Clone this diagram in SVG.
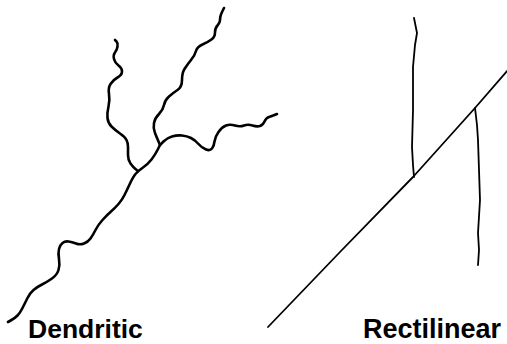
<svg xmlns="http://www.w3.org/2000/svg" width="507" height="344" viewBox="0 0 507 344">
  <style>
    .river { fill: none; stroke: #000; stroke-linecap: round; stroke-linejoin: round; }
    .dend { stroke-width: 2.6; }
    .rect { stroke-width: 1.8; }
    .label { font-family: "Liberation Sans", Arial, sans-serif; font-weight: bold; fill: #000; }
  </style>
  <rect width="507" height="344" fill="#fff"/>

  <!-- Dendritic drainage pattern -->
  <g id="dendritic">
    <g id="dendritic-trunk">
      <path class="river dend" d="M160,145 L157.5,150 Q155,155 151.5,159.5 Q148,164 143,167.5 Q138,171 135.5,174 Q133,177 130,183.5 Q127,190 124.5,195 Q122,200 118.5,204 Q115,208 111,211.5 Q107,215 102.5,220 Q98,225 95.5,230 Q93,235 90.5,238.5 Q88,242 84,243.5 Q80,245 76,243.5 Q72,242 68.5,241.5 Q65,241 62.5,243 Q60,245 59,249 Q58,253 59,259 Q60,265 58.5,270 Q57,275 52,278.5 Q47,282 42,284.5 Q37,287 33.5,290 Q30,293 27.5,298 Q25,303 22.5,308 Q20,313 17.5,315.5 Q15,318 11.5,320 L8,322"/>
    </g>
    <g id="dendritic-left">
      <path class="river dend" d="M138,171 L135.5,169 Q133,167 130.5,163.5 Q128,160 128,155 Q128,150 128,146.5 Q128,143 126.5,140 Q125,137 120,133.5 Q115,130 111.5,126.5 Q108,123 107.5,118 Q107,113 108.5,106.5 Q110,100 109,94 Q108,88 110.5,84 Q113,80 117.5,77.5 Q122,75 122,71.5 Q122,68 118.5,65.5 Q115,63 114,59 Q113,55 115,52.5 Q117,50 117.5,46.5 Q118,43 116.5,41.5 L115,40"/>
    </g>
    <g id="dendritic-middle">
      <path class="river dend" d="M160,145 L158.5,141.5 Q157,138 155,133 Q153,128 154,123 Q155,118 159,114 Q163,110 164,105 Q165,100 169,96.5 Q173,93 177.5,90 Q182,87 182,80 Q182,73 184.5,69 Q187,65 191,60 Q195,55 196,51 Q197,47 202.5,44.5 Q208,42 211.5,39.5 Q215,37 215,32.5 Q215,28 217.5,25.5 Q220,23 220,20 Q220,17 221,14.5 Q222,12 223,10 L224,8"/>
    </g>
    <g id="dendritic-right">
      <path class="river dend" d="M160,145 L163.5,141.5 Q167,138 172,136.5 Q177,135 182,135.5 Q187,136 191,138 Q195,140 198.5,144 Q202,148 206,149.5 Q210,151 212,148.5 Q214,146 214.5,141.5 Q215,137 218.5,132 Q222,127 226,125.5 Q230,124 235,125.5 Q240,127 244,125.5 Q248,124 252.5,125.5 Q257,127 260,126 Q263,125 264.5,121.5 Q266,118 269,117 Q272,116 274.5,115 L277,114"/>
    </g>
    <text class="label" x="28" y="338" font-size="26.5">Dendritic</text>
  </g>

  <!-- Rectilinear drainage pattern -->
  <g id="rectilinear">
    <g id="rect-main">
      <polyline class="river rect" points="268,327 340,252 413,177 475,108 507,71"/>
    </g>
    <g id="rect-trib-1">
      <polyline class="river rect" points="414,18 417,33 415,45 413,67 413,110 412,147 413,165 414,177"/>
    </g>
    <g id="rect-trib-2">
      <polyline class="river rect" points="475,108 477,125 478,140 479,170 480,200 478,233 479,250 478,265"/>
    </g>
    <text class="label" x="363" y="338" font-size="27">Rectilinear</text>
  </g>
</svg>
